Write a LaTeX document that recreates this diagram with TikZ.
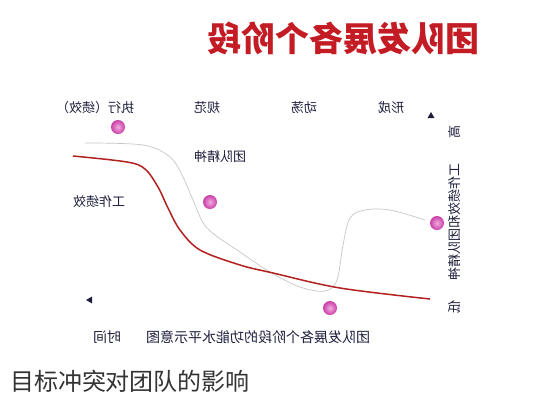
\documentclass[tikz,border=0pt]{standalone}
\usepackage{fontspec}
\usetikzlibrary{shapes.geometric}
\setmainfont{Noto Sans CJK SC}
\definecolor{inkc}{RGB}{30,30,60}
\definecolor{redc}{RGB}{178,32,32}
\definecolor{titlec}{RGB}{196,28,36}
\definecolor{dotc}{RGB}{225,70,185}
\begin{document}
\begin{tikzpicture}[x=1pt,y=-1pt,
  mir/.style={xscale=-1,inner sep=0pt,text=inkc,font=\fontsize{13}{13}\selectfont},
  vmir/.style={rotate=90,xscale=-1,inner sep=0pt,text=inkc,font=\fontsize{13}{13}\selectfont},
  dot/.style={circle,minimum size=14pt,inner sep=0pt,shading=radial,inner color=dotc!45!white,outer color=dotc!90!black},
  tri/.style={isosceles triangle,isosceles triangle apex angle=60,fill=inkc,inner sep=0pt,minimum size=6pt}]
\useasboundingbox (0,0) rectangle (533,400);
% title
\node[xscale=-1,inner sep=0pt,text=titlec,font=\fontsize{34}{34}\selectfont\bfseries] (title) at (343,38) {团队发展各个阶段};
% stage labels
\node[mir] (s4) at (95,108) {执行（绩效）};
\node[mir] (s3) at (207,108) {规范};
\node[mir] (s2) at (304,108) {动荡};
\node[mir] (s1) at (391,108) {形成};
% axis arrows
\node[tri,shape border rotate=90] (yarr) at (431,116) {};
\node[tri,shape border rotate=180] (xarr) at (90,300) {};
% y axis label
\node[vmir] (hi) at (455,132) {高};
\node[vmir] (ylab) at (455,222) {工作绩效和团队精神};
\node[vmir] (lo) at (455,307) {低};
% curve labels
\node[mir] (spirit) at (220,157) {团队精神};
\node[mir] (perf) at (99,202) {工作绩效};
% x axis label
\node[mir,font=\fontsize{14}{14}\selectfont] (xcap) at (258,337) {团队发展各个阶段的功能水平示意图};
\node[mir,font=\fontsize{14}{14}\selectfont] (time) at (107,337) {时间};
% curves
\draw[gray!45,line width=0.7pt] plot[smooth,tension=0.55] coordinates {(85,143) (143,145) (170,157) (183,177) (193,200) (207,228) (240,252) (270,272) (300,287) (325,291) (337,280) (343,245) (350,218) (365,210) (390,210) (425,220)};
\draw[redc,line width=1.5pt] plot[smooth,tension=0.55] coordinates {(73,156) (127,162) (145,169) (158,187) (168,208) (180,230) (200,250) (240,265) (273,273) (340,288) (430,299)};
% dots
\node[dot] (d1) at (118,127) {};
\node[dot] (d2) at (210,202) {};
\node[dot] (d3) at (330,308) {};
\node[dot] (d4) at (437,223) {};
% caption
\node[inner sep=0pt,text=black!80,font=\fontsize{24}{24}\selectfont] (cap) at (130,381) {目标冲突对团队的影响};
\end{tikzpicture}
\end{document}
